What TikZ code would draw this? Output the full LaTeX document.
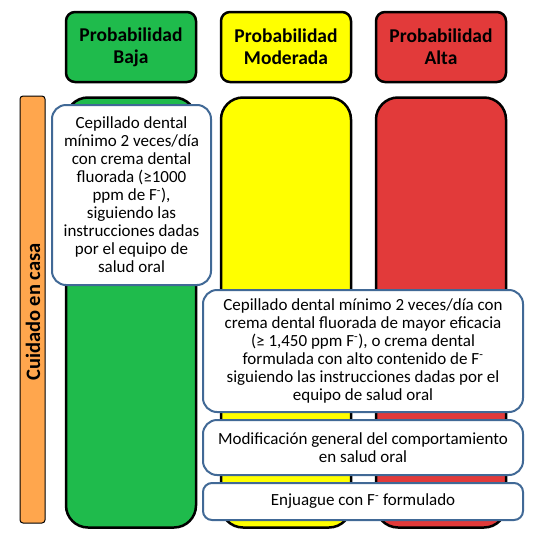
\documentclass[tikz,border=0pt]{standalone}
\usepackage{fontspec}
\setmainfont{Carlito}
\usetikzlibrary{positioning}
\definecolor{bajagreen}{RGB}{31,187,76}
\definecolor{modyellow}{RGB}{255,255,0}
\definecolor{altared}{RGB}{226,58,58}
\definecolor{casaorange}{RGB}{255,166,77}
\definecolor{boxblue}{RGB}{65,105,150}

\begin{document}
\begin{tikzpicture}[x=1pt, y=-1pt,
    header/.style={draw, line width=2.5pt, rounded corners=9pt, minimum width=130pt, minimum height=70pt, align=center, font=\fontsize{19.5}{22}\selectfont\bfseries},
    column/.style={draw, line width=2.5pt, rounded corners=22pt, minimum width=130pt, minimum height=430pt},
    infobox/.style={draw=boxblue, fill=white, line width=2pt, rounded corners=14pt, align=center, inner sep=0pt, font=\fontsize{17}{18}\selectfont}]
            \useasboundingbox (0,0) rectangle (541,536);
            % encabezados
            \node[header, fill=bajagreen] (baja) at (131,47) {Probabilidad\\Baja};
            \node[header, fill=modyellow] (moderada) at (286,47) {Probabilidad\\Moderada};
            \node[header, fill=altared] (alta) at (441,47) {Probabilidad\\Alta};

            % columnas
            \node[column, fill=bajagreen] (colbaja) at (131,312.5) {};
            \node[column, fill=modyellow] (colmod) at (286,312.5) {};
            \node[column, fill=altared] (colalta) at (441,312.5) {};

            % barra lateral
            \node[draw, fill=casaorange, line width=1pt, rounded corners=3pt, minimum width=25pt, minimum height=427pt, inner sep=0pt] (casa) at (32.5,309.5) {};
            \node[rotate=90, font=\fontsize{20.5}{22}\selectfont\bfseries] (casatxt) at (33,312) {Cuidado en casa};

            % recomendaciones
            \node[infobox, minimum width=159pt, minimum height=180pt] (cepbaja) at (131.5,195) {Cepillado dental\\m\'inimo 2 veces/d\'ia\\con crema dental\\fluorada (≥1000\\ppm de F\textsuperscript{-}),\\siguiendo las\\instrucciones dadas\\por el equipo de\\salud oral};
            \node[infobox, minimum width=320pt, minimum height=122pt] (cepalta) at (363,351) {Cepillado dental m\'inimo 2 veces/d\'ia con\\crema dental fluorada de mayor eficacia\\(≥ 1,450 ppm F\textsuperscript{-}), o crema dental\\formulada con alto contenido de F\textsuperscript{-}\\siguiendo las instrucciones dadas por el\\equipo de salud oral};
            \node[infobox, minimum width=320pt, minimum height=55pt] (comport) at (363,447.5) {Modificaci\'on general del comportamiento\\en salud oral};
            \node[infobox, minimum width=320pt, minimum height=37pt, rounded corners=9pt] (enjuague) at (363,501.5) {Enjuague con F\textsuperscript{-} formulado};
        \end{tikzpicture}
\end{document}
